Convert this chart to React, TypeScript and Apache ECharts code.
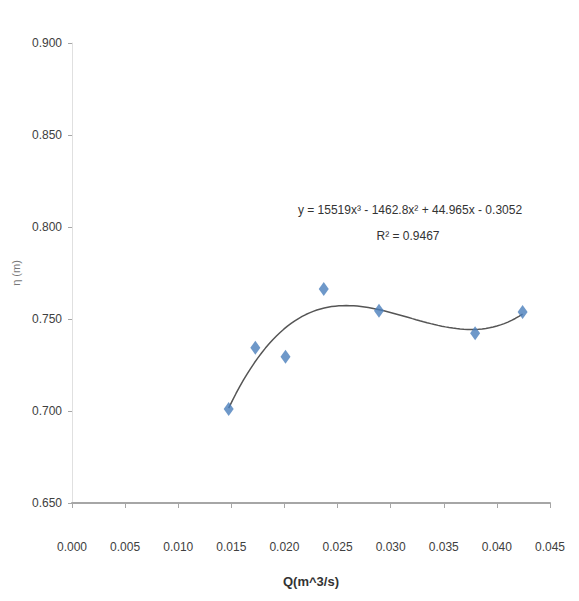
import React, { useEffect, useRef } from "react";
import * as echarts from "echarts";

const qValues = [0.01475, 0.01726, 0.0201, 0.0237, 0.0289, 0.03795, 0.04242];
const yValues = [0.7011, 0.7344, 0.7295, 0.7663, 0.7545, 0.7422, 0.7538];
const xTicks = { min: 0.0, max: 0.045, interval: 0.005 };
const yTicks = { min: 0.65, max: 0.9, interval: 0.05 };
const equationText = "y = 15519x³ - 1462.8x² + 44.965x - 0.3052";
const r2Text = "R² = 0.9467";
const xTitle = "Q(m^3/s)";
const yTitle = "η (m)";

// least-squares cubic fit (polynomial trendline, as the spreadsheet computes it)
function cubicFit(xs: number[], ys: number[]): number[] {
  const n = 4;
  const A: number[][] = [];
  for (let i = 0; i < n; i++) {
    A.push(new Array(n + 1).fill(0));
    for (let j = 0; j < n; j++) {
      let s = 0;
      for (let k = 0; k < xs.length; k++) s += Math.pow(xs[k], i + j);
      A[i][j] = s;
    }
    let t = 0;
    for (let k = 0; k < xs.length; k++) t += ys[k] * Math.pow(xs[k], i);
    A[i][n] = t;
  }
  for (let c = 0; c < n; c++) {
    let p = c;
    for (let r = c + 1; r < n; r++) if (Math.abs(A[r][c]) > Math.abs(A[p][c])) p = r;
    [A[c], A[p]] = [A[p], A[c]];
    for (let r = 0; r < n; r++) {
      if (r === c) continue;
      const f = A[r][c] / A[c][c];
      for (let k = c; k <= n; k++) A[r][k] -= f * A[c][k];
    }
  }
  return A.map((row, i) => row[n] / row[i]);
}

export default function App() {
  const ref = useRef<HTMLDivElement>(null);
  useEffect(() => {
    if (!ref.current) return;
    const chart = echarts.init(ref.current, undefined, { renderer: "svg" });
    const coef = cubicFit(qValues, yValues);
    const xmin = Math.min(...qValues);
    const xmax = Math.max(...qValues);
    const trend: number[][] = [];
    const steps = 80;
    for (let i = 0; i <= steps; i++) {
      const x = xmin + ((xmax - xmin) * i) / steps;
      trend.push([x, coef[0] + coef[1] * x + coef[2] * x * x + coef[3] * x * x * x]);
    }
    const font = "'Liberation Sans', Arial, sans-serif";
    chart.setOption({
      animation: false,
      backgroundColor: "#ffffff",
      grid: { left: 72, right: 29, top: 43, bottom: 98 },
      xAxis: {
        type: "value",
        min: xTicks.min,
        max: xTicks.max,
        interval: xTicks.interval,
        name: xTitle,
        nameLocation: "middle",
        nameGap: 72,
        nameTextStyle: { fontFamily: font, fontSize: 13, fontWeight: "bold", color: "#333" },
        axisLine: { show: true, lineStyle: { color: "#a6a6a6", width: 2 } },
        axisTick: { show: true, inside: false, length: 5, lineStyle: { color: "#a6a6a6" } },
        axisLabel: {
          margin: 44,
          fontFamily: font,
          fontSize: 12,
          color: "#404040",
          verticalAlign: "middle",
          formatter: (v: number) => v.toFixed(3),
        },
        splitLine: { show: false },
      },
      yAxis: {
        type: "value",
        min: yTicks.min,
        max: yTicks.max,
        interval: yTicks.interval,
        name: yTitle,
        nameLocation: "middle",
        nameGap: 50,
        nameTextStyle: { fontFamily: font, fontSize: 11, color: "#777" },
        axisLine: { show: true, lineStyle: { color: "#e0e0e0", width: 1 } },
        axisTick: { show: true, inside: false, length: 4, lineStyle: { color: "#a6a6a6" } },
        axisLabel: {
          margin: 10,
          fontFamily: font,
          fontSize: 12,
          color: "#404040",
          formatter: (v: number) => v.toFixed(3),
        },
        splitLine: { show: false },
      },
      series: [
        {
          type: "line",
          data: trend,
          showSymbol: false,
          smooth: false,
          lineStyle: { color: "#555555", width: 1.5 },
          z: 2,
        },
        {
          type: "scatter",
          data: qValues.map((q, i) => [q, yValues[i]]),
          symbol: "diamond",
          symbolSize: [10, 14],
          itemStyle: { color: "#4a7ebb" },
          z: 3,
        },
      ],
      graphic: [
        { type: "line", shape: { x1: 7, y1: 5, x2: 579, y2: 5 }, style: { stroke: "#9a9a9a", lineWidth: 2 } },
        { type: "line", shape: { x1: 7, y1: 5, x2: 7, y2: 601 }, style: { stroke: "#c8c8c8", lineWidth: 2 } },
        {
          type: "text",
          x: 410,
          y: 210,
          style: { text: equationText, fontFamily: font, fontSize: 12, fill: "#333", align: "center", verticalAlign: "middle" },
        },
        {
          type: "text",
          x: 408,
          y: 236,
          style: { text: r2Text, fontFamily: font, fontSize: 12, fill: "#333", align: "center", verticalAlign: "middle" },
        },
      ],
    });
    return () => chart.dispose();
  }, []);
  return <div ref={ref} style={{ width: 579, height: 601, margin: -8 }} />;
}
